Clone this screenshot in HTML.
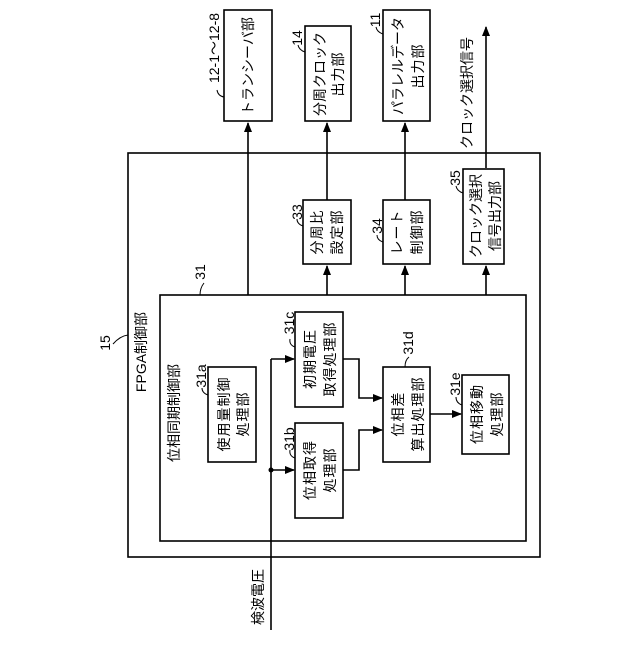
<!DOCTYPE html>
<html><head><meta charset="utf-8"><style>
html,body{margin:0;padding:0;background:#fff}
svg text{font-family:"Liberation Sans","Noto Sans CJK JP",sans-serif;font-size:14px;fill:#000}
</style></head><body>
<svg width="640" height="640" viewBox="0 0 640 640" xmlns="http://www.w3.org/2000/svg">
<defs><marker id="a" markerWidth="10" markerHeight="8" refX="9" refY="4" orient="auto" markerUnits="userSpaceOnUse"><path d="M0,0 L10,4 L0,8 z" fill="#000"/></marker></defs>
<g fill="none" stroke="#000" stroke-width="1.6">
<rect x="128" y="153" width="412" height="404"/>
<rect x="160" y="295" width="366" height="246"/>
<rect x="224" y="10" width="48" height="111"/>
<rect x="305" y="26" width="46" height="95"/>
<rect x="383" y="10" width="47" height="111"/>
<rect x="303" y="200" width="48" height="64"/>
<rect x="383" y="200" width="47" height="64"/>
<rect x="463" y="169" width="41" height="95"/>
<rect x="208" y="367" width="48" height="95"/>
<rect x="295" y="312" width="48" height="95"/>
<rect x="295" y="423" width="48" height="95"/>
<rect x="383" y="367" width="47" height="95"/>
<rect x="462" y="375" width="47" height="79"/>
<line x1="248" y1="295" x2="248" y2="123" marker-end="url(#a)"/>
<line x1="327" y1="200" x2="327" y2="123" marker-end="url(#a)"/>
<line x1="405" y1="200" x2="405" y2="123" marker-end="url(#a)"/>
<line x1="486" y1="168" x2="486" y2="27" marker-end="url(#a)"/>
<line x1="327" y1="295" x2="327" y2="266" marker-end="url(#a)"/>
<line x1="405" y1="295" x2="405" y2="266" marker-end="url(#a)"/>
<line x1="486" y1="295" x2="486" y2="266" marker-end="url(#a)"/>
<line x1="271" y1="630" x2="271" y2="359"/>
<line x1="271" y1="359" x2="294" y2="359" marker-end="url(#a)"/>
<line x1="271" y1="470" x2="294" y2="470" marker-end="url(#a)"/>
<polyline points="343,359 359,359 359,398 382,398" marker-end="url(#a)"/>
<polyline points="343,470 359,470 359,430 382,430" marker-end="url(#a)"/>
<line x1="430" y1="414" x2="461" y2="414" marker-end="url(#a)"/>
<g stroke-width="1">
<path d="M128,335 Q120,336 113,344"/>
<path d="M200,295 Q200,288 204,283"/>
<path d="M224,97 Q218,96 217,90"/>
<path d="M305,52 Q299,50 298,45"/>
<path d="M383,34 Q377,32 376,27"/>
<path d="M303,226 Q297,224 297,219"/>
<path d="M383,242 Q377,240 377,235"/>
<path d="M463,193 Q457,191 456,186"/>
<path d="M208,395 Q202,393 202,388"/>
<path d="M295,347 Q289,345 290,339"/>
<path d="M295,458 Q289,456 290,450"/>
<path d="M405,367 Q405,360 409,357"/>
<path d="M462,405 Q456,403 456,397"/>
</g>
</g>
<circle cx="271" cy="470" r="2.5" fill="#000"/>
<g text-anchor="middle" dominant-baseline="central">
<text transform="translate(105,343) rotate(-90)">15</text>
<text transform="translate(141,352) rotate(-90)" font-size="15">FPGA制御部</text>
<text transform="translate(200,272) rotate(-90)">31</text>
<text transform="translate(174,413) rotate(-90)" font-size="15">位相同期制御部</text>
<text transform="translate(214,48) rotate(-90)">12-1～12-8</text>
<text transform="translate(248,66) rotate(-90)">トランシーバ部</text>
<text transform="translate(297,38) rotate(-90)">14</text>
<text transform="translate(320,74) rotate(-90)">分周クロック</text>
<text transform="translate(338,74) rotate(-90)" letter-spacing="1">出力部</text>
<text transform="translate(375,20) rotate(-90)">11</text>
<text transform="translate(398,66) rotate(-90)" font-size="13.5">パラレルデータ</text>
<text transform="translate(418,66) rotate(-90)" letter-spacing="1">出力部</text>
<text transform="translate(467,93) rotate(-90)" font-size="15">クロック選択信号</text>
<text transform="translate(297,212) rotate(-90)">33</text>
<text transform="translate(317,232) rotate(-90)" letter-spacing="1">分周比</text>
<text transform="translate(337,232) rotate(-90)" letter-spacing="1">設定部</text>
<text transform="translate(377,226) rotate(-90)">34</text>
<text transform="translate(397,232) rotate(-90)" letter-spacing="1">レート</text>
<text transform="translate(417,232) rotate(-90)" letter-spacing="1">制御部</text>
<text transform="translate(455,178) rotate(-90)">35</text>
<text transform="translate(476,216) rotate(-90)" font-size="13.5">クロック選択</text>
<text transform="translate(495,216) rotate(-90)" font-size="13.5">信号出力部</text>
<text transform="translate(201,376) rotate(-90)">31a</text>
<text transform="translate(224,414) rotate(-90)" letter-spacing="1">使用量制御</text>
<text transform="translate(243,414) rotate(-90)" letter-spacing="1">処理部</text>
<text transform="translate(289,323) rotate(-90)">31c</text>
<text transform="translate(310,359) rotate(-90)" letter-spacing="1">初期電圧</text>
<text transform="translate(330,359) rotate(-90)" letter-spacing="1">取得処理部</text>
<text transform="translate(289,439) rotate(-90)">31b</text>
<text transform="translate(310,470) rotate(-90)" letter-spacing="1">位相取得</text>
<text transform="translate(330,470) rotate(-90)" letter-spacing="1">処理部</text>
<text transform="translate(408,343) rotate(-90)">31d</text>
<text transform="translate(398,414) rotate(-90)" letter-spacing="1">位相差</text>
<text transform="translate(418,414) rotate(-90)" letter-spacing="1">算出処理部</text>
<text transform="translate(455,384) rotate(-90)">31e</text>
<text transform="translate(477,414) rotate(-90)" letter-spacing="1">位相移動</text>
<text transform="translate(497,414) rotate(-90)" letter-spacing="1">処理部</text>
<text transform="translate(258,597) rotate(-90)" font-size="15">検波電圧</text>
</g>
</svg>
</body></html>
